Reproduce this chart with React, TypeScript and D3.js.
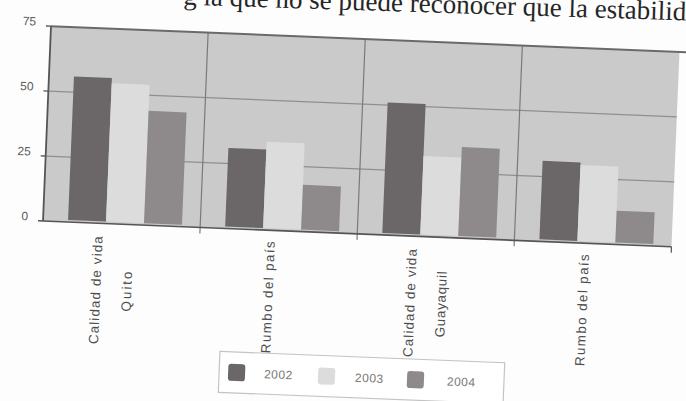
import React from 'react';
import * as d3 from 'd3';

const categories = ['Calidad de vida Quito', 'Rumbo del país Quito', 'Calidad de vida Guayaquil', 'Rumbo del país Guayaquil'];
const categoryLabelLines = [['Calidad de vida', 'Quito'], ['Rumbo del país'], ['Calidad de vida', 'Guayaquil'], ['Rumbo del país']];
const seriesNames = ['2002', '2003', '2004'];
const values2002 = [56, 31, 51, 31];
const values2003 = [54, 34, 31, 30];
const values2004 = [44, 18, 35, 13];
const yTicks = [0, 25, 50, 75];
const headingText = 'g la que no se puede reconocer que la estabilidad';

const SANS = '"Liberation Sans", Arial, sans-serif';
const SERIF = '"Liberation Serif", "Times New Roman", serif';

const seriesColors = ['#6b6768', '#dcdcdc', '#8e8a8b'];
const labelLengths: Record<string, number> = {
  'Calidad de vida': 108,
  'Rumbo del país': 112,
  'Quito': 40,
  'Guayaquil': 66,
};

export default function App() {
  const plotW = 629;
  const plotH = 195;
  const x0 = d3.scaleBand<string>().domain(categories).range([0, plotW]).padding(0);
  const x1 = d3.scaleBand<string>().domain(seriesNames).range([25, 139]).padding(0);
  const y = d3.scaleLinear().domain([0, 75]).range([0, -plotH]);
  const seriesValues = [values2002, values2003, values2004];
  const bw = x0.bandwidth();

  return (
    <svg width={686} height={401} style={{ position: 'absolute', left: 0, top: 0, background: '#ffffff' }}>
      <rect x={0} y={0} width={686} height={401} fill="#fdfdfd" />
      <g transform="rotate(1.8, 450, 13)">
        <text x={183} y={13} fontFamily={SERIF} fontSize={27} fill="#262626">{headingText}</text>
      </g>

      <g transform="translate(43,221) rotate(2.35)">
        <rect x={0} y={y(75)} width={plotW} height={plotH} fill="#cacaca" />
        {yTicks.filter(t => t > 0 && t < 75).map(t => (
          <line key={'g' + t} x1={0} x2={plotW} y1={y(t)} y2={y(t)} stroke="#8f8f8f" strokeWidth={1.2} />
        ))}
        {categories.slice(1).map(c => (
          <line key={'s' + c} x1={x0(c)} x2={x0(c)} y1={y(75)} y2={6} stroke="#7a7a7a" strokeWidth={1.2} />
        ))}
        <line x1={plotW} x2={plotW} y1={0} y2={6} stroke="#555" strokeWidth={1.2} />

        {categories.map((c, ci) => (
          <g key={'b' + c} transform={`translate(${x0(c)},0)`}>
            {seriesNames.map((s, si) => {
              const v = seriesValues[si][ci];
              return (
                <rect key={s} x={x1(s)} y={y(v)} width={x1.bandwidth()} height={-y(v) - 2}
                  fill={seriesColors[si]} />
              );
            })}
          </g>
        ))}

        <line x1={0} x2={plotW + 8} y1={y(75)} y2={y(75)} stroke="#6a6a6a" strokeWidth={2} />
        <line x1={0} x2={0} y1={y(75)} y2={0} stroke="#555" strokeWidth={1.8} />
        <line x1={0} x2={plotW} y1={0} y2={0} stroke="#555" strokeWidth={1.6} />

        {yTicks.map(t => (
          <g key={'t' + t}>
            <line x1={-5} x2={0} y1={y(t)} y2={y(t)} stroke="#555" strokeWidth={1.4} />
            <text x={-15} y={y(t) - 4} textAnchor="end" dominantBaseline="central"
              fontFamily={SANS} fontSize={12} fill="#5a5a5a">{t}</text>
          </g>
        ))}

        {categories.map((c, ci) => {
          const cx = (x0(c) as number) + bw / 2;
          const lines = categoryLabelLines[ci];
          const xs = lines.length === 1 ? [cx - 8] : [cx - 23, cx + 8];
          return lines.map((ln, li) => (
            <text key={c + li} transform={`translate(${xs[li]},67) rotate(-90)`}
              textAnchor="middle" dominantBaseline="central"
              fontFamily={SANS} fontSize={13.5} fill="#4e4e4e"
              textLength={labelLengths[ln]} lengthAdjust="spacing">{ln}</text>
          ));
        })}
      </g>

      <g transform="rotate(2.3, 360, 378)">
        <rect x={219} y={357} width={285} height={41} fill="#ffffff" stroke="#c4c4c4" strokeWidth={1.2} />
        {seriesNames.map((s, si) => {
          const lx = [228, 318, 407][si];
          const tx = [264, 355, 447][si];
          return (
            <g key={'l' + s}>
              <rect x={lx} y={369} width={17} height={17} rx={3} fill={seriesColors[si]} />
              <text x={tx} y={378} dominantBaseline="central" fontFamily={SANS} fontSize={12}
                fill="#777" letterSpacing={0.5}>{s}</text>
            </g>
          );
        })}
      </g>
    </svg>
  );
}
